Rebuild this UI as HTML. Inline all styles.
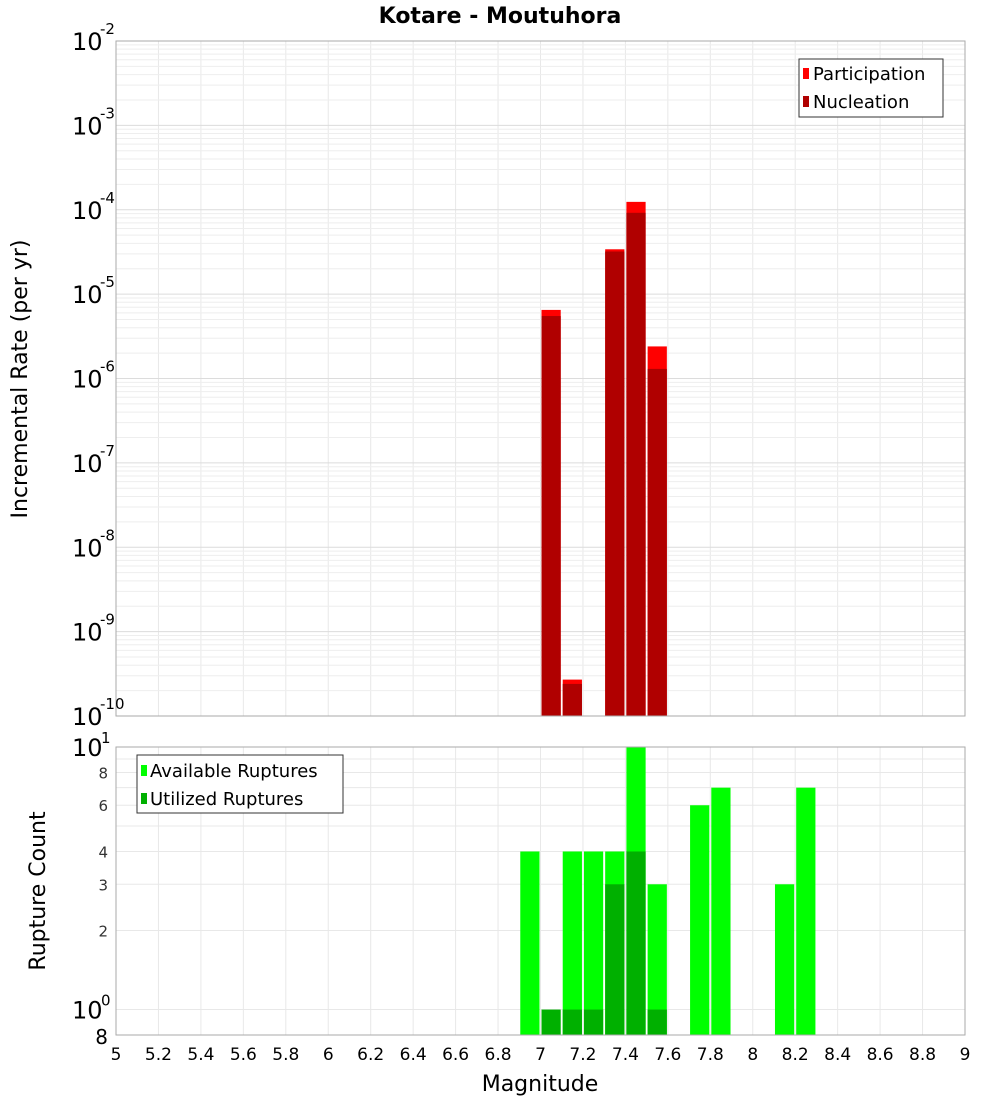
<!DOCTYPE html>
<html><head><meta charset="utf-8"><style>
body{margin:0;background:#fff;font-family:"DejaVu Sans","Liberation Sans",sans-serif}
svg{display:block}
</style></head><body>
<svg id="c" width="1000" height="1100" xmlns="http://www.w3.org/2000/svg"></svg>
<script>
const mags=[6.95,7.05,7.15,7.25,7.35,7.45,7.55,7.75,7.85,8.15,8.25];
const participation=[0,6.5e-6,2.7e-10,0,3.4e-5,1.24e-4,2.4e-6,0,0,0,0];
const nucleation=[0,5.5e-6,2.4e-10,0,3.2e-5,9.2e-5,1.3e-6,0,0,0,0];
const available=[4,0,4,4,4,10,3,6,7,3,7];
const utilized=[0,1,1,1,3,4,1,0,0,0,0];
const xTicks=["5","5.2","5.4","5.6","5.8","6","6.2","6.4","6.6","6.8","7","7.2","7.4","7.6","7.8","8","8.2","8.4","8.6","8.8","9"];
const topExps=[-10,-9,-8,-7,-6,-5,-4,-3,-2];
const botTicks=[2,3,4,6,8];

const svg=document.getElementById('c');const NS='http://www.w3.org/2000/svg';
function el(t,a,name,p){const e=document.createElementNS(NS,t);for(const k in a)e.setAttribute(k,a[k]);


(p||svg).appendChild(e);return e;}
const X0=116,X1=965;
const x=m=>X0+(m-5)/4*(X1-X0);
const T0=41,T1=716;
const yT=v=>T1-(Math.log10(v)+10)/8*(T1-T0);
const B0=747,B1=1035,lmin=Math.log10(0.8),lmax=1;
const yB=v=>B1-(Math.log10(v)-lmin)/(lmax-lmin)*(B1-B0);

// title
let t=el('text',{x:500,y:23,'text-anchor':'middle','font-size':22,'font-weight':'bold'},'chart-title');t.textContent='Kotare - Moutuhora';
// plot backgrounds
el('rect',{x:X0,y:T0,width:X1-X0,height:T1-T0,fill:'#fff'},'top-plot-area');
el('rect',{x:X0,y:B0,width:X1-X0,height:B1-B0,fill:'#fff'},'bottom-plot-area');
// grids
for(let i=0;i<xTicks.length;i++){const xx=x(5+0.2*i);
el('line',{x1:xx,x2:xx,y1:T0,y2:T1,stroke:'#e8e8e8'},'top-x-grid');
el('line',{x1:xx,x2:xx,y1:B0,y2:B1,stroke:'#e8e8e8'},'bottom-x-grid');}
for(let e=-10;e<-2;e++)for(let k=1;k<10;k++){const yy=yT(k*Math.pow(10,e));
el('line',{x1:X0,x2:X1,y1:yy,y2:yy,stroke:k==1?'#dcdcdc':'#eeeeee'},'top-y-grid');}
for(let k=1;k<=10;k++){const yy=yB(k);el('line',{x1:X0,x2:X1,y1:yy,y2:yy,stroke:'#e8e8e8'},'bottom-y-grid');}
// top bars
const bw=x(5.1)-x(5)-2;
mags.forEach((m,i)=>{
if(participation[i]>0)el('rect',{x:x(m)-bw/2,y:yT(participation[i]),width:bw,height:T1-yT(participation[i]),fill:'#ff0000'},'participation-bar');
if(nucleation[i]>0)el('rect',{x:x(m)-bw/2,y:yT(nucleation[i]),width:bw,height:T1-yT(nucleation[i]),fill:'#b00000'},'nucleation-bar');
if(available[i]>0)el('rect',{x:x(m)-bw/2,y:yB(available[i]),width:bw,height:B1-yB(available[i]),fill:'#00ff00'},'available-bar');
if(utilized[i]>0)el('rect',{x:x(m)-bw/2,y:yB(utilized[i]),width:bw,height:B1-yB(utilized[i]),fill:'#00b000'},'utilized-bar');
});
el('rect',{x:X0,y:T0,width:X1-X0,height:T1-T0,fill:'none',stroke:'#aaa'},'top-plot-border');
el('rect',{x:X0,y:B0,width:X1-X0,height:B1-B0,fill:'none',stroke:'#aaa'},'bottom-plot-border');
// top y ticks
topExps.forEach(e=>{const yy=yT(Math.pow(10,e));
const tx=el('text',{x:72,y:yy+9,'font-size':24},'top-y-tick-label');tx.textContent='10';
const s=el('text',{x:100,y:yy-7,'font-size':15},'top-y-tick-exp');s.textContent=String(e);});
// bottom y ticks
[[10,'10','1'],[1,'10','0']].forEach(([v,b,p])=>{const yy=yB(v);
const tx=el('text',{x:72,y:yy+9,'font-size':24},'bottom-y-tick-label');tx.textContent=b;
const s=el('text',{x:101,y:yy-4,'font-size':15},'bottom-y-tick-exp');s.textContent=p;});
botTicks.forEach(v=>{const tx=el('text',{x:108,y:yB(v)+6,'font-size':15,'text-anchor':'end','fill':'#333'},'bottom-y-tick-label');tx.textContent=String(v);});
t=el('text',{x:108,y:B1+9,'font-size':20,'text-anchor':'end'},'bottom-y-tick-label');t.textContent='8';
// x ticks
xTicks.forEach((s,i)=>{const tx=el('text',{x:x(5+0.2*i),y:1060,'font-size':17,'text-anchor':'middle'},'x-tick-label');tx.textContent=s;});
t=el('text',{x:540,y:1091,'font-size':22,'text-anchor':'middle'},'x-axis-title');t.textContent='Magnitude';
t=el('text',{x:0,y:0,'font-size':22,'text-anchor':'middle',transform:'translate(27,379) rotate(-90)'},'top-y-axis-title');t.textContent='Incremental Rate (per yr)';
t=el('text',{x:0,y:0,'font-size':22,'text-anchor':'middle',transform:'translate(45,891) rotate(-90)'},'bottom-y-axis-title');t.textContent='Rupture Count';
// legends
const g1=el('g',{},'top-legend');
el('rect',{x:799,y:59,width:144,height:58,fill:'#fff',stroke:'#333'},'legend-box',g1);
el('rect',{x:803,y:68,width:6,height:11,fill:'#ff0000'},'legend-swatch-participation',g1);
t=el('text',{x:813,y:80,'font-size':18},'legend-entry-participation',g1);t.textContent='Participation';
el('rect',{x:803,y:96,width:6,height:11,fill:'#b00000'},'legend-swatch-nucleation',g1);
t=el('text',{x:813,y:108,'font-size':18},'legend-entry-nucleation',g1);t.textContent='Nucleation';
const g2=el('g',{},'bottom-legend');
el('rect',{x:137,y:755,width:206,height:58,fill:'#fff',stroke:'#333'},'legend-box',g2);
el('rect',{x:141,y:765,width:6,height:11,fill:'#00ff00'},'legend-swatch-available',g2);
t=el('text',{x:150,y:777,'font-size':18},'legend-entry-available',g2);t.textContent='Available Ruptures';
el('rect',{x:141,y:793,width:6,height:11,fill:'#00b000'},'legend-swatch-utilized',g2);
t=el('text',{x:150,y:805,'font-size':18},'legend-entry-utilized',g2);t.textContent='Utilized Ruptures';
</script>
</body></html>
